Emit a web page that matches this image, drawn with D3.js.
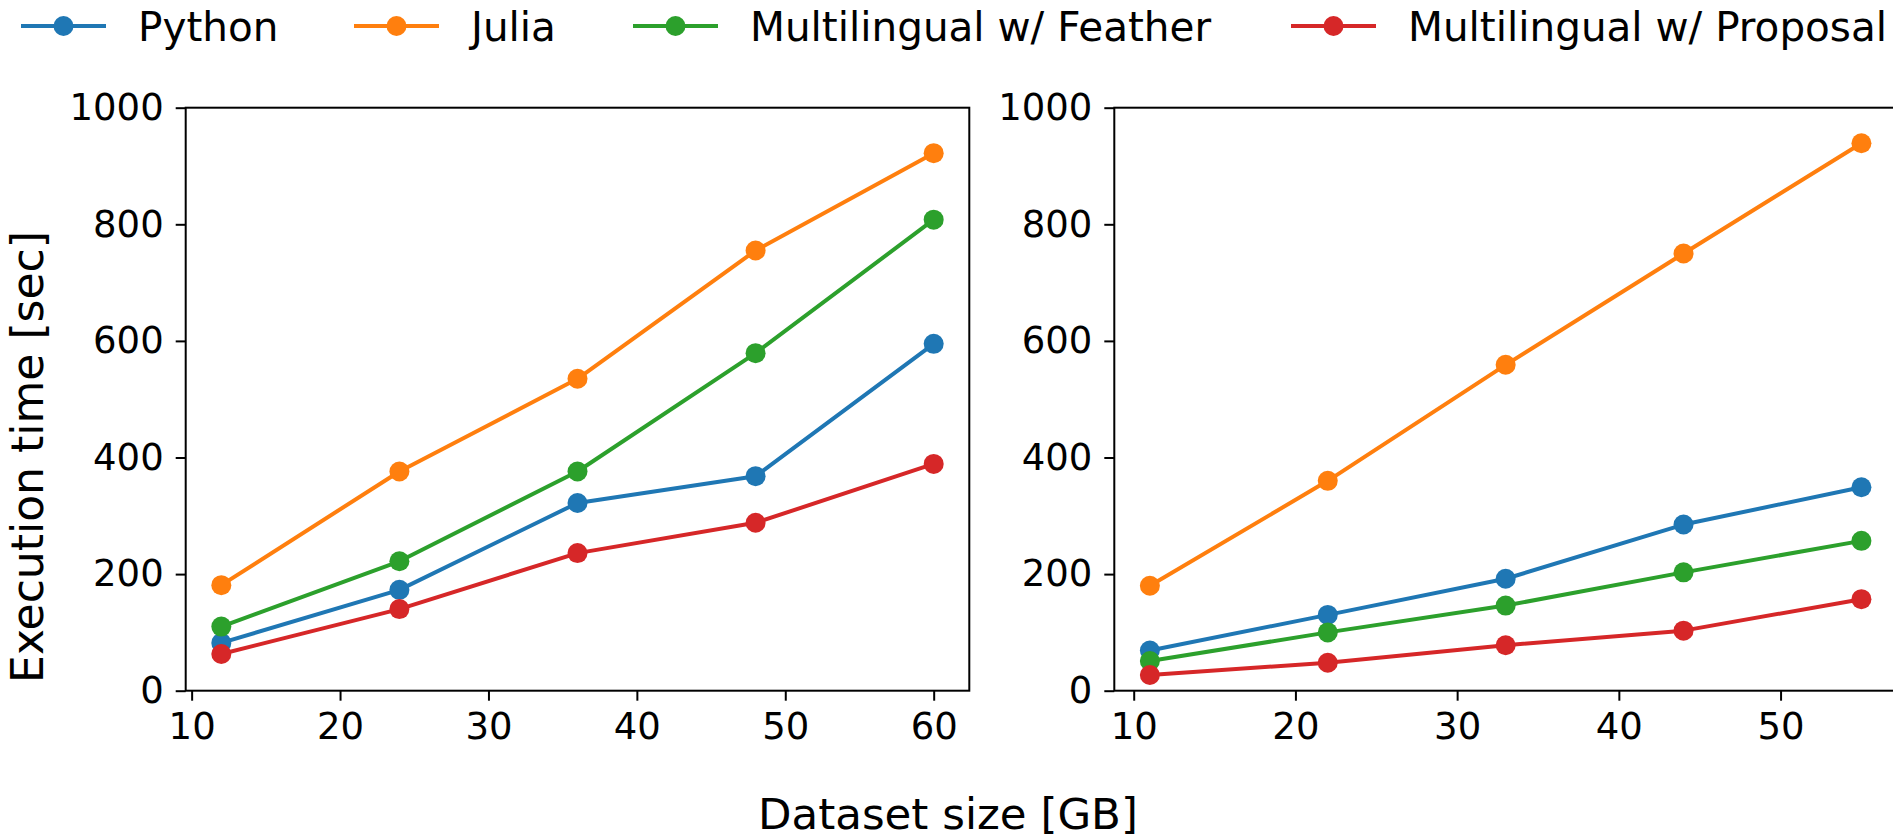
<!DOCTYPE html>
<html lang="en">
<head>
<meta charset="utf-8">
<title>execution time vs dataset size</title>
<script src="https://d3js.org/d3.v7.min.js"></script>
<style>
  body { margin: 0; background: #fff; font-family: "DejaVu Sans", sans-serif; }
  #chart svg { display: block; }
  .tick text { font-family: "DejaVu Sans", sans-serif; }
</style>
</head>
<body>
<div id="chart"></div>
<script>
// series names and colours (matplotlib tab10)
var seriesNames = ["Python", "Julia", "Multilingual w/ Feather", "Multilingual w/ Proposal"]
var seriesColors = ["#1f77b4", "#ff7f0e", "#2ca02c", "#d62728"]

// left panel
var sizesLeft = [12, 24, 36, 48, 60]
var pythonLeft = [82, 173, 322, 368, 595]
var juliaLeft = [181, 376, 535, 755, 922]
var featherLeft = [110, 222, 376, 579, 808]
var proposalLeft = [63, 140, 236, 288, 389]

// right panel
var sizesRight = [11, 22, 33, 44, 55]
var pythonRight = [69, 130, 192, 285, 349]
var juliaRight = [180, 360, 559, 750, 939]
var featherRight = [51, 100, 146, 203, 257]
var proposalRight = [27, 48, 78, 103, 157]

var yTicks = [0, 200, 400, 600, 800, 1000]
var xTicksLeft = [10, 20, 30, 40, 50, 60]
var xTicksRight = [10, 20, 30, 40, 50]

var W = 1893, H = 837
var plotTop = 107.7, plotBottom = 690.7   // "top" is taken by window.top

var svg = d3.select("#chart").append("svg")
    .attr("width", W)
    .attr("height", H)

var yScale = d3.scaleLinear().domain([0, 1000]).range([plotBottom, plotTop])

function drawPanel(left, right, xDomain, sizes, values, xTicks) {
    var xScale = d3.scaleLinear().domain(xDomain).range([left, right])
    var g = svg.append("g")

    var line = d3.line()
        .x(function(d) { return xScale(d[0]) })
        .y(function(d) { return yScale(d[1]) })

    values.forEach(function(vals, i) {
        var pts = sizes.map(function(s, j) { return [s, vals[j]] })
        g.append("path")
            .datum(pts)
            .attr("d", line)
            .attr("fill", "none")
            .attr("stroke", seriesColors[i])
            .attr("stroke-width", 4)
            .attr("stroke-linejoin", "round")
        g.selectAll(".pt" + i)
            .data(pts)
            .enter()
            .append("circle")
            .attr("class", "pt" + i)
            .attr("cx", function(d) { return xScale(d[0]) })
            .attr("cy", function(d) { return yScale(d[1]) })
            .attr("r", 10)
            .attr("fill", seriesColors[i])
    })

    // frame
    g.append("rect")
        .attr("x", left)
        .attr("y", plotTop)
        .attr("width", right - left)
        .attr("height", plotBottom - plotTop)
        .attr("fill", "none")
        .attr("stroke", "#000")
        .attr("stroke-width", 2)

    var xAxis = g.append("g")
        .attr("transform", "translate(0," + plotBottom + ")")
        .call(d3.axisBottom(xScale).tickValues(xTicks).tickSize(10).tickPadding(12).tickFormat(d3.format("d")))
    var yAxis = g.append("g")
        .attr("transform", "translate(" + left + ",0)")
        .call(d3.axisLeft(yScale).tickValues(yTicks).tickSize(10).tickPadding(12).tickFormat(d3.format("d")))

    ;[xAxis, yAxis].forEach(function(a) {
        a.select(".domain").remove()
        a.selectAll(".tick line").attr("stroke", "#000").attr("stroke-width", 2)
        a.selectAll(".tick text").attr("fill", "#000").style("font-size", "37px")
    })
}

drawPanel(185.7, 969.3, [9.6, 62.4], sizesLeft,
    [pythonLeft, juliaLeft, featherLeft, proposalLeft], xTicksLeft)
drawPanel(1114.3, 1897, [8.8, 57.2], sizesRight,
    [pythonRight, juliaRight, featherRight, proposalRight], xTicksRight)

// axis labels
svg.append("text")
    .attr("x", 948)
    .attr("y", 829)
    .attr("text-anchor", "middle")
    .style("font-size", "43.5px")
    .text("Dataset size [GB]")

svg.append("text")
    .attr("transform", "translate(43,457) rotate(-90)")
    .attr("text-anchor", "middle")
    .style("font-size", "44px")
    .text("Execution time [sec]")

// legend
var legendLine = [21, 354, 633, 1291]
var legend = svg.append("g")
legend.append("rect")
    .attr("x", 0).attr("y", 0).attr("width", W).attr("height", 62)
    .attr("fill", "#fff")
seriesNames.forEach(function(name, i) {
    var x0 = legendLine[i]
    legend.append("line")
        .attr("x1", x0).attr("x2", x0 + 85)
        .attr("y1", 26).attr("y2", 26)
        .attr("stroke", seriesColors[i])
        .attr("stroke-width", 4)
    legend.append("circle")
        .attr("cx", x0 + 42.5).attr("cy", 26).attr("r", 10)
        .attr("fill", seriesColors[i])
    legend.append("text")
        .attr("x", x0 + 117)
        .attr("y", 40.5)
        .style("font-size", "40.5px")
        .text(name)
})
</script>
</body>
</html>
